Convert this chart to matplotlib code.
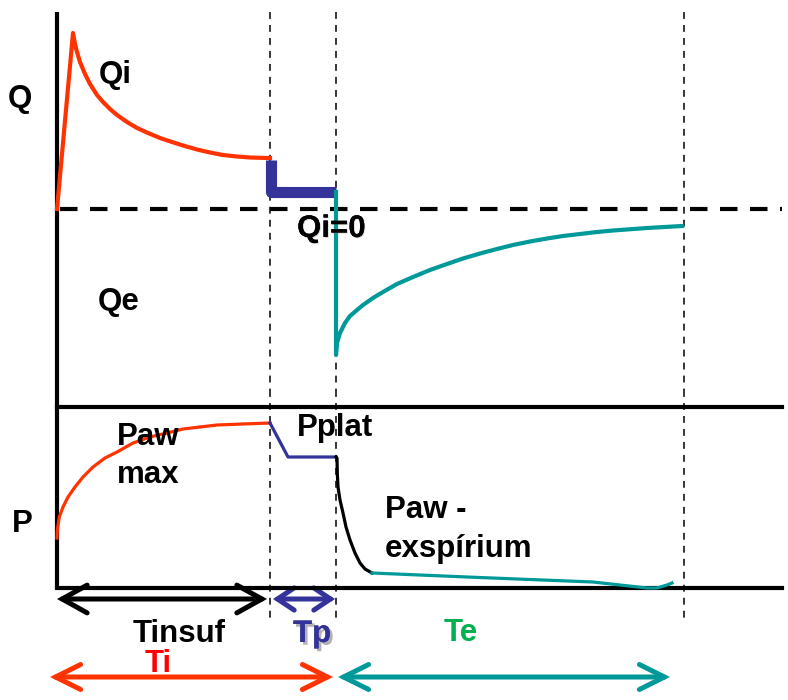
import matplotlib
matplotlib.use("Agg")
import matplotlib.pyplot as plt
import matplotlib.patheffects as pe
from matplotlib.patches import FancyArrowPatch

plt.rcParams['font.family'] = ['Liberation Sans', 'DejaVu Sans']
plt.rcParams['font.weight'] = 'bold'

RED = "#FF3300"
BLUE = "#333399"
TEAL = "#009999"

# phase boundaries on the time axis
t_insp_end = 213
t_plat_end = 279
t_exp_end = 627
t_axis_end = 725

# flow curve: inspiration (Qi), pause, expiration (Qe)
qi_t = [0, 16, 18, 20, 23, 28, 33, 40, 46, 53, 60, 70, 80, 91, 103, 115, 126,
        140, 153, 166, 180, 193, 210, 213]
qi_v = [0, 176, 165, 157, 147, 135, 125, 114, 107, 100, 94, 87, 81, 76, 71, 67, 63.5,
        59.5, 56.5, 54, 52.5, 51.5, 51, 51]
pause_t = [214, 214, 279]
pause_q = [49, 17, 17]
qe_t = [279, 279, 280, 283, 288, 293, 300, 306, 316, 326, 340, 356, 373, 390, 406,
        423, 440, 456, 473, 490, 506, 523, 540, 556, 590, 625]
qe_v = [17, -146, -134, -124, -114, -107, -101, -96, -89, -83, -75, -68, -61, -55, -49.5,
        -44.5, -40, -36, -32.5, -29.5, -27, -25, -23, -21.5, -19, -17]

# airway pressure curve
paw_t = [0, 0.3, 2.3, 6, 11, 18, 26, 36, 48, 60, 76, 93, 110, 126, 143, 160, 186, 213]
paw_v = [50, 58, 71, 81, 91, 101, 111, 121, 130, 136, 145, 151, 155, 159, 161, 163, 164, 165]
pplat_t = [213, 231, 279]
pplat_v = [165, 131, 131]
drop_t = [279, 280, 280.3, 281, 283, 286, 289, 293, 298, 303, 308, 315]
drop_v = [131, 130, 115, 101, 88, 75, 61, 48, 35, 25, 19, 15]
pexp_t = [315, 410, 536, 590, 600, 610, 615]
pexp_v = [15, 11, 6, 0, 0, 3, 5]

q_top = 197
p_frame_top = 181
guide_bottom = -34

fig = plt.figure(figsize=(7.88, 7.0), dpi=100)
ax_q = fig.add_axes([0, 310 / 700, 1, 390 / 700])
ax_p = fig.add_axes([0, 0, 1, 310 / 700])
ax_q.set_xlim(-57, 731)
ax_q.set_ylim(-181, 209)
ax_p.set_xlim(-57, 731)
ax_p.set_ylim(-112, 198)
for ax in (ax_q, ax_p):
    ax.axis('off')

# axes frame
ax_q.plot([0, 0], [q_top, -181], color="black", lw=3, solid_capstyle='butt', clip_on=False)
ax_p.plot([0, 0], [198, 0], color="black", lw=3, solid_capstyle='butt', clip_on=False)
ax_p.plot([0, t_axis_end], [p_frame_top, p_frame_top], color="black", lw=3)
ax_p.plot([0, t_axis_end], [0, 0], color="black", lw=3)
ax_q.plot([3, t_axis_end], [0, 0], color="black", lw=3, dashes=(4.2, 3))

# phase guides
for t in (t_insp_end, t_plat_end, t_exp_end):
    ax_q.plot([t, t], [q_top, -181], color="black", lw=1.1, dashes=(4.5, 4), clip_on=False)
    ax_p.plot([t, t], [198, guide_bottom], color="black", lw=1.1, dashes=(4.5, 4), clip_on=False)

# flow
ax_q.plot(qi_t, qi_v, color=RED, lw=3, solid_joinstyle='round')
ax_q.plot(pause_t, pause_q, color=BLUE, lw=8, solid_capstyle='butt', solid_joinstyle='round')
ax_q.plot(qe_t, qe_v, color=TEAL, lw=3, solid_joinstyle='round')

# pressure
ax_p.plot(paw_t, paw_v, color=RED, lw=2.3, solid_joinstyle='round')
ax_p.plot(pplat_t, pplat_v, color=BLUE, lw=2.3)
ax_p.plot(drop_t, drop_v, color="black", lw=2.3, solid_joinstyle='round')
ax_p.plot(pexp_t, pexp_v, color=TEAL, lw=2.3, solid_joinstyle='round')

# time spans
spans = [
    (0, 210, -11, "black", 3.6, 18, 10),
    (216, 278, -11, BLUE, 3.6, 12, 8),
    (-7, 276, -89, RED, 3.6, 18, 9),
    (281, 613, -89, TEAL, 3.6, 18, 9),
]
for t0, t1, y, col, lw, hl, hw in spans:
    arr = FancyArrowPatch((t0, y), (t1, y),
                          arrowstyle=f"<->,head_length={hl},head_width={hw}",
                          mutation_scale=1, shrinkA=0, shrinkB=0,
                          color=col, lw=lw, capstyle='round', joinstyle='miter')
    ax_p.add_patch(arr)

fs = 22.5
ax_q.text(-49, 102, "Q", fontsize=fs)
ax_q.text(42, 126, "Qi", fontsize=fs)
ax_q.text(41, -101, "Qe", fontsize=fs)
ax_q.text(240, -28, "Qi=0", fontsize=fs,
          path_effects=[pe.withSimplePatchShadow(offset=(0.7, -0.7), shadow_rgbFace="gray", alpha=0.3), pe.Normal()])
ax_p.text(-45, 56, "P", fontsize=fs)
ax_p.text(60, 143, "Paw", fontsize=fs)
ax_p.text(60, 105, "max", fontsize=fs)
ax_p.text(240, 152, "Pplat", fontsize=fs)
ax_p.text(328, 70, "Paw -", fontsize=fs)
ax_p.text(328, 31, "exspírium", fontsize=fs)
ax_p.text(76, -54, "Tinsuf", fontsize=fs)
ax_p.text(236, -54, "Tp", fontsize=fs, color=BLUE,
          path_effects=[pe.withSimplePatchShadow(offset=(2, -2), shadow_rgbFace="gray", alpha=0.6), pe.Normal()])
ax_p.text(387, -53, "Te", fontsize=fs, color="#00B050")
ax_p.text(88, -84, "Ti", fontsize=fs, color="#FF0000")

fig.savefig("out.png", dpi=100)
